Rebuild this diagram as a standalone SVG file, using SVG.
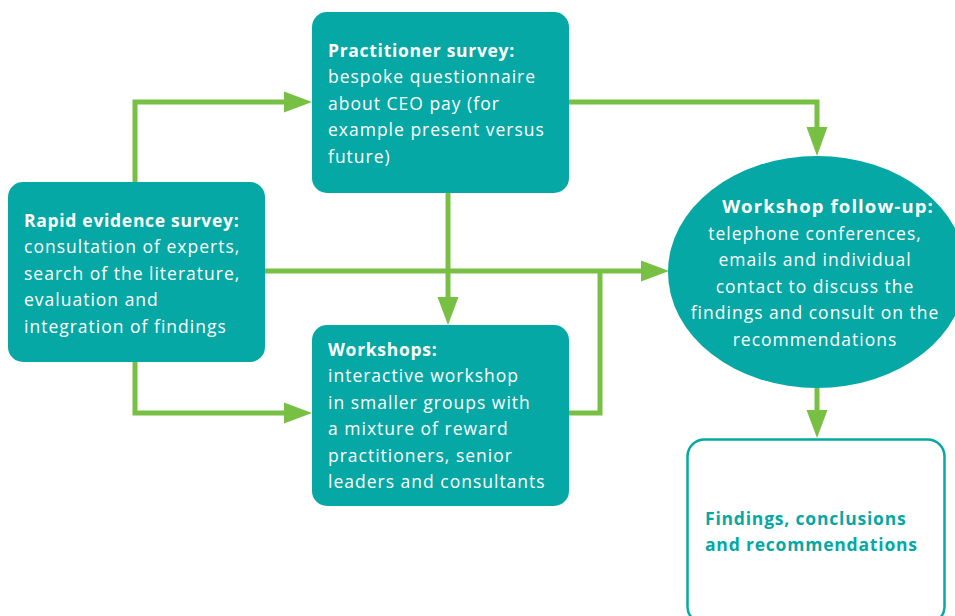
<svg xmlns="http://www.w3.org/2000/svg" width="955" height="616" viewBox="0 0 955 616">
  <style>
    .box { fill: #05a8a5; }
    .out { fill: #ffffff; stroke: #05a8a5; stroke-width: 2.5; }
    .link { fill: none; stroke: #77c043; stroke-width: 5; stroke-linejoin: miter; }
    .head { fill: #77c043; }
    text { font-family: "Open Sans", "Noto Sans", sans-serif; font-size: 17.5px; letter-spacing: 1px; fill: #ffffff; }
    .b { font-weight: bold; letter-spacing: 0.7px; }
    .c { text-anchor: middle; }
    .wide { font-size: 18.5px; letter-spacing: 1.1px; }
    .teal { fill: #05a8a5; font-weight: bold; letter-spacing: 0.8px; }
  </style>

  <!-- connectors -->
  <g id="connectors">
    <polyline class="link" points="135,183 135,102 290,102"/>
    <polyline class="link" points="135,361 135,413 290,413"/>
    <polyline class="link" points="264,271 645,271"/>
    <polyline class="link" points="448,192 448,303"/>
    <polyline class="link" points="568,413 600,413 600,271"/>
    <polyline class="link" points="568,102 817,102 817,130"/>
    <polyline class="link" points="817,387 817,414"/>
    <polygon class="head" points="312,102 284,91.5 284,112.5"/>
    <polygon class="head" points="312,413 284,402.5 284,423.5"/>
    <polygon class="head" points="669,271 641,260.5 641,281.5"/>
    <polygon class="head" points="448,325 437.5,297 458.5,297"/>
    <polygon class="head" points="817,156 806.5,127 827.5,127"/>
    <polygon class="head" points="817,438 806.5,410 827.5,410"/>
  </g>

  <g id="rapid">
    <rect class="box" x="8" y="182" width="257" height="180" rx="15"/>
    <text x="24" y="227" class="b">Rapid evidence survey:</text>
    <text x="24" y="253">consultation of experts,</text>
    <text x="24" y="280">search of the literature,</text>
    <text x="24" y="306">evaluation and</text>
    <text x="24" y="333">integration of findings</text>
  </g>

  <g id="practitioner">
    <rect class="box" x="312" y="12" width="257" height="181" rx="15"/>
    <text x="328" y="57" class="b">Practitioner survey:</text>
    <text x="328" y="83">bespoke questionnaire</text>
    <text x="328" y="110">about CEO pay (for</text>
    <text x="328" y="136">example present versus</text>
    <text x="328" y="163">future)</text>
  </g>

  <g id="workshops">
    <rect class="box" x="312" y="325" width="257" height="181" rx="15"/>
    <text x="328" y="356" class="b">Workshops:</text>
    <text x="328" y="382">interactive workshop</text>
    <text x="328" y="409">in smaller groups with</text>
    <text x="328" y="435">a mixture of reward</text>
    <text x="328" y="462">practitioners, senior</text>
    <text x="328" y="488">leaders and consultants</text>
  </g>

  <g id="followup">
    <ellipse class="box" cx="817" cy="272" rx="149" ry="116"/>
    <text x="828" y="213" class="b c wide">Workshop follow-up:</text>
    <text x="815" y="240" class="c">telephone conferences,</text>
    <text x="815" y="266" class="c">emails and individual</text>
    <text x="815" y="293" class="c">contact to discuss the</text>
    <text x="815" y="319" class="c">findings and consult on the</text>
    <text x="815" y="346" class="c">recommendations</text>
  </g>

  <g id="findings">
    <rect class="out" x="687.5" y="439.5" width="257" height="184" rx="17"/>
    <text x="705" y="525" class="teal">Findings, conclusions</text>
    <text x="705" y="551" class="teal">and recommendations</text>
  </g>
</svg>
